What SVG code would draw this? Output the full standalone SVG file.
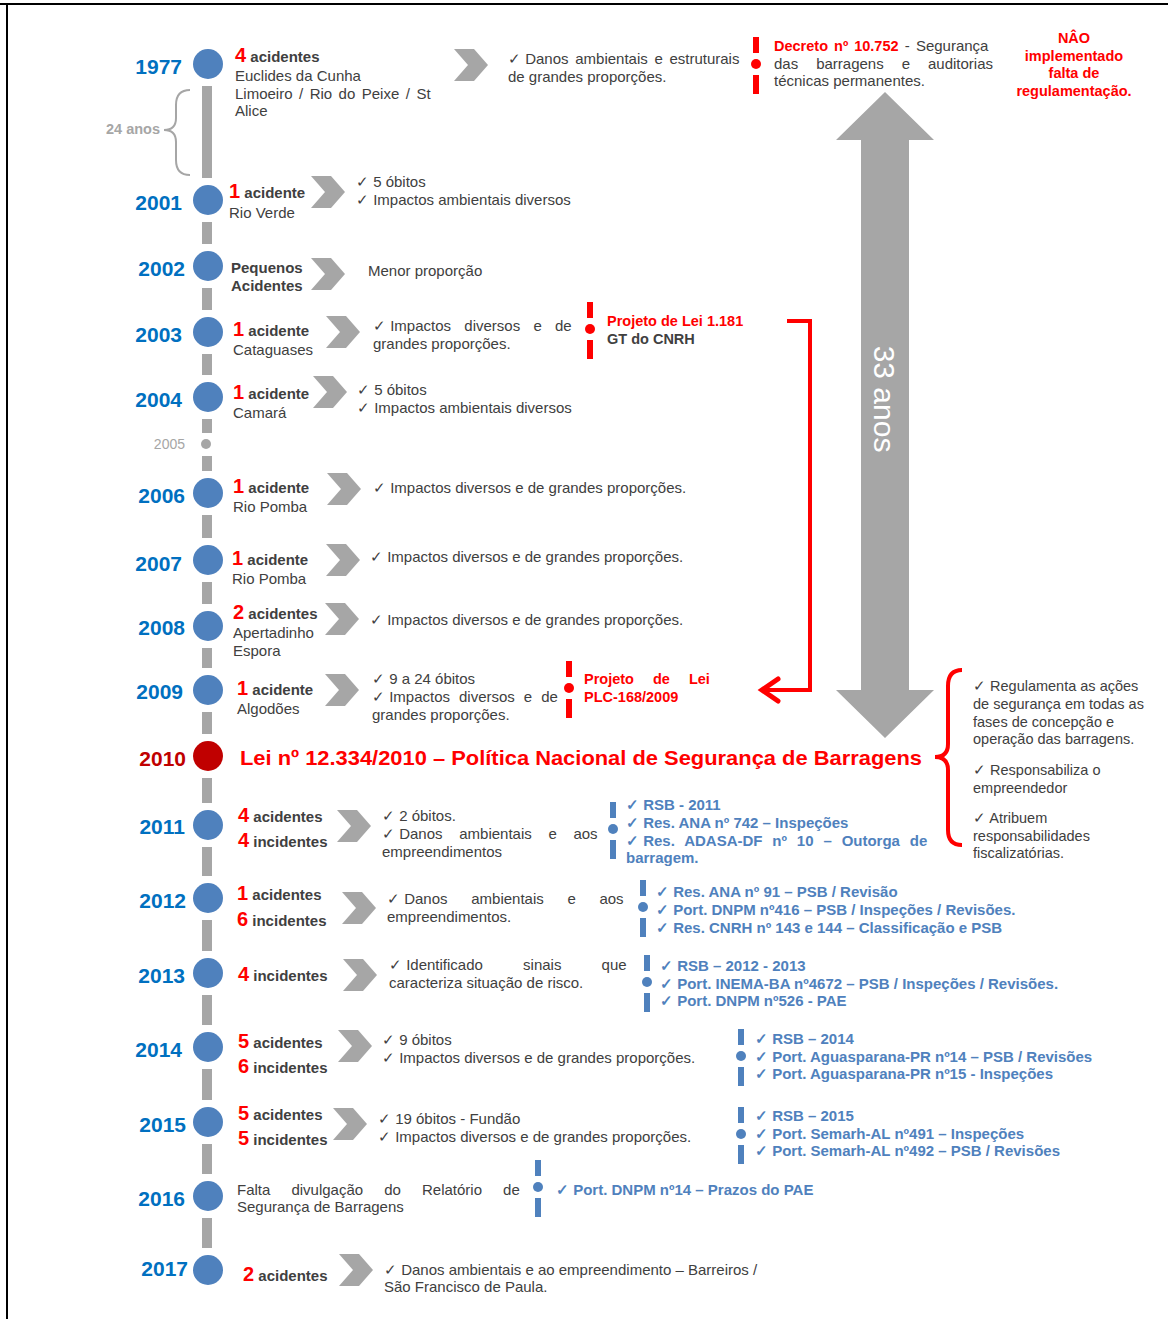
<svg xmlns="http://www.w3.org/2000/svg" xmlns:xlink="http://www.w3.org/1999/xlink" width="1168" height="1319" viewBox="0 0 1168 1319">
<style>
text{font-family:"Liberation Sans",Arial,sans-serif;}
.yr{font-size:21px;font-weight:bold;fill:#0070c0;text-anchor:end;}
.n{font-size:20px;font-weight:bold;fill:#ff0000;}
.b{font-size:15px;font-weight:bold;fill:#404040;}
.t{font-size:15px;fill:#404040;}
.r{font-size:14.5px;fill:#404040;}
.bl{font-size:15px;font-weight:bold;fill:#4f81bd;}
.rb{font-size:14.5px;font-weight:bold;fill:#ff0000;}
.node circle{fill:#4f81bd;}
.seg{fill:#a6a6a6;}
.chev{fill:#a6a6a6;}
.rm{fill:#ff0000;}
.bm{fill:#4f81bd;}
</style>
<defs>
<path id="chev" d="M0,-16 H20 L34,0 L20,16 H0 L14,0 Z"/>
<g id="rmark"><rect x="-3" y="-27" width="6" height="16"/><circle cx="0" cy="0" r="5"/><rect x="-3" y="11" width="6" height="19"/></g>
</defs>
<rect width="1168" height="1319" fill="#ffffff"/>
<line x1="0" y1="4" x2="1168" y2="4" stroke="#000" stroke-width="2"/>
<line x1="7" y1="4" x2="7" y2="1319" stroke="#000" stroke-width="2"/>

<g id="connectors">
<g class="seg">
<rect x="202" y="86" width="10" height="92"/>
<rect x="202" y="222" width="10" height="22"/>
<rect x="202" y="288" width="10" height="22"/>
<rect x="202" y="354" width="10" height="21"/>
<rect x="202" y="419" width="10" height="14"/>
<rect x="202" y="456" width="10" height="15"/>
<rect x="202" y="515" width="10" height="23"/>
<rect x="202" y="582" width="10" height="22"/>
<rect x="202" y="648" width="10" height="20"/>
<rect x="202" y="712" width="10" height="22"/>
<rect x="202" y="778" width="10" height="25"/>
<rect x="202" y="847" width="10" height="29"/>
<rect x="202" y="920" width="10" height="31"/>
<rect x="202" y="995" width="10" height="30"/>
<rect x="202" y="1069" width="10" height="31"/>
<rect x="202" y="1144" width="10" height="30"/>
<rect x="202" y="1218" width="10" height="30"/>
</g>
<path d="M190,90 Q176,90 176,105 L176,118 Q176,130 164,130 Q176,130 176,142 L176,160 Q176,175 190,175" fill="none" stroke="#a6a6a6" stroke-width="2"/>
<path d="M787,321 H810 V690 H764" fill="none" stroke="#ff0000" stroke-width="4"/>
<path d="M778,679 L762,690 L778,701" fill="none" stroke="#ff0000" stroke-width="5" stroke-linecap="round" stroke-linejoin="miter"/>
<path d="M885,92 L934,140 H909 V690 H934 L885,738 L836,690 H861 V140 H836 Z" fill="#a6a6a6"/>
<path d="M962,670 Q948,670 948,686 L948,744 Q948,757 935,757 Q948,757 948,770 L948,830 Q948,845 962,845" fill="none" stroke="#ff0000" stroke-width="4"/>
</g>

<text x="160" y="134" style="font-size:14.5px;font-weight:bold;fill:#a6a6a6;text-anchor:end">24 anos</text>
<text transform="translate(874,399) rotate(90)" style="font-size:30px;fill:#ffffff;text-anchor:middle">33 anos</text>

<g id="n1977" class="node">
<circle cx="208" cy="64" r="15"/>
<text class="yr" x="182" y="74">1977</text>
<text x="235" y="62"><tspan class="n">4</tspan><tspan class="b"> acidentes</tspan></text>
<text class="t" x="235" y="81">Euclides da Cunha</text>
<text class="t" x="235" y="99" style="word-spacing:2.3px">Limoeiro / Rio do Peixe / St</text>
<text class="t" x="235" y="116">Alice</text>
<use xlink:href="#chev" href="#chev" x="454" y="65" class="chev"/>
<text class="t" x="508" y="64">✓ <tspan style="word-spacing:2.5px">Danos ambientais e estruturais</tspan></text>
<text class="t" x="508" y="82">de grandes proporções.</text>
</g>

<g id="decreto">
<use xlink:href="#rmark" href="#rmark" x="756" y="64" class="rm"/>
<text x="774" y="51" style="word-spacing:2px"><tspan class="rb">Decreto nº 10.752</tspan><tspan class="t"> - Segurança</tspan></text>
<text class="t" x="774" y="69" style="word-spacing:13.8px">das barragens e auditorias</text>
<text class="t" x="774" y="86">técnicas permanentes.</text>
</g>

<g id="nao" style="text-anchor:middle">
<text class="rb" x="1074" y="43">NÂO</text>
<text class="rb" x="1074" y="61">implementado</text>
<text class="rb" x="1074" y="78">falta de</text>
<text class="rb" x="1074" y="96">regulamentação.</text>
</g>

<g id="n2001" class="node">
<circle cx="208" cy="200" r="15"/>
<text class="yr" x="182" y="210">2001</text>
<text x="229" y="198"><tspan class="n">1</tspan><tspan class="b"> acidente</tspan></text>
<text class="t" x="229" y="218">Rio Verde</text>
<use xlink:href="#chev" href="#chev" x="311" y="192" class="chev"/>
<text class="t" x="356" y="187">✓ 5 óbitos</text>
<text class="t" x="356" y="205">✓ Impactos ambientais diversos</text>
</g>

<g id="n2002" class="node">
<circle cx="208" cy="266" r="15"/>
<text class="yr" x="185" y="276">2002</text>
<text class="b" x="231" y="273">Pequenos</text>
<text class="b" x="231" y="291">Acidentes</text>
<use xlink:href="#chev" href="#chev" x="311" y="274" class="chev"/>
<text class="t" x="368" y="276">Menor proporção</text>
</g>

<g id="n2003" class="node">
<circle cx="208" cy="332" r="15"/>
<text class="yr" x="182" y="342">2003</text>
<text x="233" y="336"><tspan class="n">1</tspan><tspan class="b"> acidente</tspan></text>
<text class="t" x="233" y="355">Cataguases</text>
<use xlink:href="#chev" href="#chev" x="326" y="332" class="chev"/>
<text class="t" x="373" y="331">✓ <tspan style="word-spacing:9.1px">Impactos diversos e de</tspan></text>
<text class="t" x="373" y="349">grandes proporções.</text>
</g>

<g id="pl1181">
<use xlink:href="#rmark" href="#rmark" x="590" y="329" class="rm"/>
<text class="rb" x="607" y="326">Projeto de Lei 1.181</text>
<text x="607" y="344" style="font-size:14.5px;font-weight:bold;fill:#404040">GT do CNRH</text>
</g>

<g id="n2004" class="node">
<circle cx="208" cy="397" r="15"/>
<text class="yr" x="182" y="407">2004</text>
<text x="233" y="399"><tspan class="n">1</tspan><tspan class="b"> acidente</tspan></text>
<text class="t" x="233" y="418">Camará</text>
<use xlink:href="#chev" href="#chev" x="313" y="392" class="chev"/>
<text class="t" x="357" y="395">✓ 5 óbitos</text>
<text class="t" x="357" y="413">✓ Impactos ambientais diversos</text>
</g>

<g id="n2005">
<circle cx="206" cy="444" r="5" fill="#a6a6a6"/>
<text x="185" y="449" style="font-size:14px;fill:#a6a6a6;text-anchor:end">2005</text>
</g>

<g id="n2006" class="node">
<circle cx="208" cy="493" r="15"/>
<text class="yr" x="185" y="503">2006</text>
<text x="233" y="493"><tspan class="n">1</tspan><tspan class="b"> acidente</tspan></text>
<text class="t" x="233" y="512">Rio Pomba</text>
<use xlink:href="#chev" href="#chev" x="327" y="489" class="chev"/>
<text class="t" x="373" y="493">✓ Impactos diversos e de grandes proporções.</text>
</g>

<g id="n2007" class="node">
<circle cx="208" cy="560" r="15"/>
<text class="yr" x="182" y="571">2007</text>
<text x="232" y="565"><tspan class="n">1</tspan><tspan class="b"> acidente</tspan></text>
<text class="t" x="232" y="584">Rio Pomba</text>
<use xlink:href="#chev" href="#chev" x="326" y="560" class="chev"/>
<text class="t" x="370" y="562">✓ Impactos diversos e de grandes proporções.</text>
</g>

<g id="n2008" class="node">
<circle cx="208" cy="626" r="15"/>
<text class="yr" x="185" y="635">2008</text>
<text x="233" y="619"><tspan class="n">2</tspan><tspan class="b"> acidentes</tspan></text>
<text class="t" x="233" y="638">Apertadinho</text>
<text class="t" x="233" y="656">Espora</text>
<use xlink:href="#chev" href="#chev" x="325" y="619" class="chev"/>
<text class="t" x="370" y="625">✓ Impactos diversos e de grandes proporções.</text>
</g>

<g id="n2009" class="node">
<circle cx="208" cy="690" r="15"/>
<text class="yr" x="183" y="699">2009</text>
<text x="237" y="695"><tspan class="n">1</tspan><tspan class="b"> acidente</tspan></text>
<text class="t" x="237" y="714">Algodões</text>
<use xlink:href="#chev" href="#chev" x="325" y="690" class="chev"/>
<text class="t" x="372" y="684">✓ 9 a 24 óbitos</text>
<text class="t" x="372" y="702">✓ <tspan style="word-spacing:4.8px">Impactos diversos e de</tspan></text>
<text class="t" x="372" y="720">grandes proporções.</text>
</g>

<g id="plc168">
<use xlink:href="#rmark" href="#rmark" x="569" y="688" class="rm"/>
<text class="rb" x="584" y="684" style="word-spacing:15px">Projeto de Lei</text>
<text class="rb" x="584" y="702">PLC-168/2009</text>
</g>

<g id="n2010">
<circle cx="208" cy="756" r="15" fill="#c00000"/>
<text class="yr" x="186" y="766" style="fill:#c00000">2010</text>
<text x="240" y="765" textLength="682" lengthAdjust="spacingAndGlyphs" style="font-size:21px;font-weight:bold;fill:#ff0000">Lei nº 12.334/2010 – Política Nacional de Segurança de Barragens</text>
</g>

<g id="pnsb">
<text class="r" x="973" y="691">✓ Regulamenta as ações</text>
<text class="r" x="973" y="709">de segurança em todas as</text>
<text class="r" x="973" y="727">fases de concepção e</text>
<text class="r" x="973" y="744">operação das barragens.</text>
<text class="r" x="973" y="775">✓ Responsabiliza o</text>
<text class="r" x="973" y="793">empreendedor</text>
<text class="r" x="973" y="823">✓ Atribuem</text>
<text class="r" x="973" y="841">responsabilidades</text>
<text class="r" x="973" y="858">fiscalizatórias.</text>
</g>

<g id="n2011" class="node">
<circle cx="208" cy="825" r="15"/>
<text class="yr" x="185" y="834">2011</text>
<text x="238" y="822"><tspan class="n">4</tspan><tspan class="b"> acidentes</tspan></text>
<text x="238" y="847"><tspan class="n">4</tspan><tspan class="b"> incidentes</tspan></text>
<use xlink:href="#chev" href="#chev" x="337" y="826" class="chev"/>
<text class="t" x="382" y="821">✓ 2 óbitos.</text>
<text class="t" x="382" y="839">✓ <tspan style="word-spacing:12.5px">Danos ambientais e aos</tspan></text>
<text class="t" x="382" y="857">empreendimentos</text>
<use xlink:href="#rmark" href="#rmark" x="613" y="829" class="bm"/>
<text class="bl" x="626" y="810">✓ RSB - 2011</text>
<text class="bl" x="626" y="828">✓ Res. ANA nº 742 – Inspeções</text>
<text class="bl" x="626" y="846">✓ <tspan style="word-spacing:5.7px">Res. ADASA-DF nº 10 – Outorga de</tspan></text>
<text class="bl" x="626" y="863">barragem.</text>
</g>

<g id="n2012" class="node">
<circle cx="208" cy="898" r="15"/>
<text class="yr" x="186" y="908">2012</text>
<text x="237" y="900"><tspan class="n">1</tspan><tspan class="b"> acidentes</tspan></text>
<text x="237" y="926"><tspan class="n">6</tspan><tspan class="b"> incidentes</tspan></text>
<use xlink:href="#chev" href="#chev" x="342" y="908" class="chev"/>
<text class="t" x="387" y="904">✓ <tspan style="word-spacing:19.5px">Danos ambientais e aos</tspan></text>
<text class="t" x="387" y="922">empreendimentos.</text>
<use xlink:href="#rmark" href="#rmark" x="643" y="907" class="bm"/>
<text class="bl" x="656" y="897">✓ Res. ANA nº 91 – PSB / Revisão</text>
<text class="bl" x="656" y="915">✓ Port. DNPM nº416 – PSB / Inspeções / Revisões.</text>
<text class="bl" x="656" y="933">✓ Res. CNRH nº 143 e 144 – Classificação e PSB</text>
</g>

<g id="n2013" class="node">
<circle cx="208" cy="973" r="15"/>
<text class="yr" x="185" y="983">2013</text>
<text x="238" y="981"><tspan class="n">4</tspan><tspan class="b"> incidentes</tspan></text>
<use xlink:href="#chev" href="#chev" x="343" y="975" class="chev"/>
<text class="t" x="389" y="970">✓ <tspan style="word-spacing:36px">Identificado sinais que</tspan></text>
<text class="t" x="389" y="988">caracteriza situação de risco.</text>
<use xlink:href="#rmark" href="#rmark" x="647" y="982" class="bm"/>
<text class="bl" x="660" y="971">✓ RSB – 2012 - 2013</text>
<text class="bl" x="660" y="989">✓ Port. INEMA-BA nº4672 – PSB / Inspeções / Revisões.</text>
<text class="bl" x="660" y="1006">✓ Port. DNPM nº526 - PAE</text>
</g>

<g id="n2014" class="node">
<circle cx="208" cy="1047" r="15"/>
<text class="yr" x="182" y="1057">2014</text>
<text x="238" y="1048"><tspan class="n">5</tspan><tspan class="b"> acidentes</tspan></text>
<text x="238" y="1073"><tspan class="n">6</tspan><tspan class="b"> incidentes</tspan></text>
<use xlink:href="#chev" href="#chev" x="338" y="1046" class="chev"/>
<text class="t" x="382" y="1045">✓ 9 óbitos</text>
<text class="t" x="382" y="1063">✓ Impactos diversos e de grandes proporções.</text>
<use xlink:href="#rmark" href="#rmark" x="741" y="1056" class="bm"/>
<text class="bl" x="755" y="1044">✓ RSB – 2014</text>
<text class="bl" x="755" y="1062">✓ Port. Aguasparana-PR nº14 – PSB / Revisões</text>
<text class="bl" x="755" y="1079">✓ Port. Aguasparana-PR nº15 - Inspeções</text>
</g>

<g id="n2015" class="node">
<circle cx="208" cy="1122" r="15"/>
<text class="yr" x="186" y="1132">2015</text>
<text x="238" y="1120"><tspan class="n">5</tspan><tspan class="b"> acidentes</tspan></text>
<text x="238" y="1145"><tspan class="n">5</tspan><tspan class="b"> incidentes</tspan></text>
<use xlink:href="#chev" href="#chev" x="333" y="1124" class="chev"/>
<text class="t" x="378" y="1124">✓ 19 óbitos - Fundão</text>
<text class="t" x="378" y="1142">✓ Impactos diversos e de grandes proporções.</text>
<use xlink:href="#rmark" href="#rmark" x="741" y="1134" class="bm"/>
<text class="bl" x="755" y="1121">✓ RSB – 2015</text>
<text class="bl" x="755" y="1139">✓ Port. Semarh-AL nº491 – Inspeções</text>
<text class="bl" x="755" y="1156">✓ Port. Semarh-AL nº492 – PSB / Revisões</text>
</g>

<g id="n2016" class="node">
<circle cx="208" cy="1196" r="15"/>
<text class="yr" x="185" y="1206">2016</text>
<text class="t" x="237" y="1195" style="word-spacing:16.9px">Falta divulgação do Relatório de</text>
<text class="t" x="237" y="1212">Segurança de Barragens</text>
<use xlink:href="#rmark" href="#rmark" x="538" y="1187" class="bm"/>
<text class="bl" x="556" y="1195">✓ Port. DNPM nº14 – Prazos do PAE</text>
</g>

<g id="n2017" class="node">
<circle cx="208" cy="1270" r="15"/>
<text class="yr" x="188" y="1276">2017</text>
<text x="243" y="1281"><tspan class="n">2</tspan><tspan class="b"> acidentes</tspan></text>
<use xlink:href="#chev" href="#chev" x="339" y="1270" class="chev"/>
<text class="t" x="384" y="1275">✓ Danos ambientais e ao empreendimento – Barreiros /</text>
<text class="t" x="384" y="1292">São Francisco de Paula.</text>
</g>
</svg>
